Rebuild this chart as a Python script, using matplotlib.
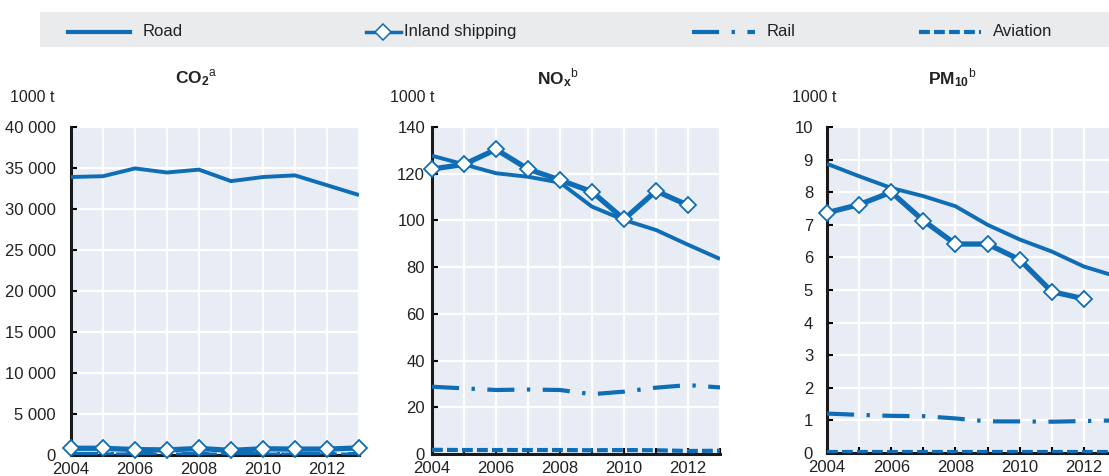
import numpy as np
import matplotlib.pyplot as plt
from matplotlib.ticker import FuncFormatter

plt.rcParams['font.family'] = ['Liberation Sans Narrow', 'Liberation Sans', 'DejaVu Sans']
plt.rcParams['mathtext.fontset'] = 'custom'
plt.rcParams['mathtext.rm'] = 'Liberation Sans'
plt.rcParams['mathtext.bf'] = 'Liberation Sans:bold'

years = np.arange(2004, 2014)

# emissions in 1000 t
co2_road = [33900, 34000, 34950, 34450, 34800, 33400, 33900, 34100, 32900, 31700]
co2_inland = [820, 820, 660, 620, 800, 560, 760, 720, 720, 860]
co2_rail = [130, 130, 125, 125, 120, 115, 115, 115, 110, 110]
co2_aviation = [60, 60, 60, 55, 55, 50, 50, 50, 45, 45]

nox_road = [127.7, 124.0, 120.2, 118.7, 116.2, 105.9, 100.2, 95.9, 89.6, 83.5]
nox_inland = [122.0, 124.0, 130.4, 122.0, 117.3, 112.3, 100.5, 112.6, 106.5, np.nan]
nox_rail = [28.8, 28.1, 27.4, 27.6, 27.4, 25.6, 26.7, 28.4, 29.5, 28.5]
nox_aviation = [1.8, 1.7, 1.7, 1.7, 1.7, 1.6, 1.7, 1.6, 1.3, 1.4]

pm_road = [8.87, 8.49, 8.13, 7.88, 7.57, 7.00, 6.55, 6.18, 5.72, 5.42]
pm_inland = [7.37, 7.62, 8.00, 7.13, 6.41, 6.41, 5.93, 4.95, 4.73, np.nan]
pm_rail = [1.21, 1.17, 1.14, 1.13, 1.06, 0.97, 0.97, 0.96, 0.98, 1.00]
pm_aviation = [0.03, 0.03, 0.03, 0.03, 0.03, 0.03, 0.03, 0.03, 0.03, 0.03]

titles = [r'$\mathbf{CO_2}^{\mathrm{a}}$', r'$\mathbf{NO_x}^{\mathrm{b}}$', r'$\mathbf{PM_{10}}^{\mathrm{b}}$']
ylims = [(0, 40000, 5000), (0, 140, 20), (0, 10, 1)]
panels = [
    (co2_road, co2_inland, co2_rail, co2_aviation),
    (nox_road, nox_inland, nox_rail, nox_aviation),
    (pm_road, pm_inland, pm_rail, pm_aviation),
]

blue = '#0F6DB5'
bg = '#E8ECF5'
W, H = 1109, 476

fig = plt.figure(figsize=(W / 100, H / 100), dpi=100)

# axes boxes in pixels: left, right, top, bottom
boxes = [(71, 359, 127, 455), (432, 720, 127, 454), (827, 1116, 127, 453)]
label_pad = [11, 5, 10]
title_x = [196, 558, 952]
unit_x = [10, 390, 792]

rail_dash = (6.5, 3.0, 0.8, 3.0)
avia_dash = (2.6, 1.0)


def thousands(v, pos):
    return f'{int(v):,}'.replace(',', ' ')


for i, (box, data) in enumerate(zip(boxes, panels)):
    l, r, t, b = box
    ax = fig.add_axes([l / W, 1 - b / H, (r - l) / W, (b - t) / H])
    road, inland, rail, aviation = data
    ax.set_facecolor(bg)
    ax.plot(years, aviation, color=blue, lw=3, dashes=avia_dash, zorder=3)
    ax.plot(years, rail, color=blue, lw=3, dashes=rail_dash, zorder=3)
    ax.plot(years, road, color=blue, lw=2.8, zorder=4, solid_capstyle='butt')
    ax.plot(years, inland, color=blue, lw=3.8, marker='D', ms=8,
            mfc='white', mec=blue, mew=1.3, zorder=5, clip_on=False)

    lo, hi, step = ylims[i]
    ax.set_ylim(lo, hi)
    ax.set_yticks(np.arange(lo, hi + step / 2, step))
    ax.set_xlim(2004, 2013)
    ax.set_xticks(years)
    ax.set_xticklabels([str(y) if y % 2 == 0 else '' for y in years])
    if i == 0:
        ax.yaxis.set_major_formatter(FuncFormatter(thousands))
    ax.grid(True, color='white', lw=1.6)
    ax.set_axisbelow(True)
    for s in ['top', 'right']:
        ax.spines[s].set_visible(False)
    for s in ['left', 'bottom']:
        ax.spines[s].set_linewidth(2.2)
        ax.spines[s].set_color('#1a1a1a')
    ax.tick_params(axis='y', direction='in', length=4, width=1.5,
                   labelsize=12, pad=label_pad[i], labelcolor='#222222')
    ax.tick_params(axis='x', direction='in', length=4, width=1.5,
                   labelsize=12, pad=5, labelcolor='#222222')

    fig.text(title_x[i] / W, 1 - 78 / H, titles[i], ha='center', va='center',
             fontsize=12.5, color='#222222')
    fig.text(unit_x[i] / W, 1 - 98 / H, '1000 t', ha='left', va='center',
             fontsize=11.5, color='#222222')

# legend bar across the top
lax = fig.add_axes([40 / W, 1 - 47 / H, (W - 40) / W, 35 / H])
lax.set_facecolor('#EAEBED')
lax.set_xlim(40, W)
lax.set_ylim(0, 1)
lax.set_xticks([])
lax.set_yticks([])
for s in lax.spines.values():
    s.set_visible(False)

ly = 0.44
lax.plot([68, 130], [ly, ly], color=blue, lw=3)
lax.text(143, ly, 'Road', va='center', fontsize=12, color='#222222')
lax.plot([366, 401], [ly, ly], color=blue, lw=2.5)
lax.plot([383], [ly], marker='D', ms=8, mfc='white', mec=blue, mew=1.1)
lax.text(404, ly, 'Inland shipping', va='center', fontsize=12, color='#222222')
lax.plot([692, 755], [ly, ly], color=blue, lw=3, dashes=rail_dash)
lax.text(767, ly, 'Rail', va='center', fontsize=12, color='#222222')
lax.plot([919, 981], [ly, ly], color=blue, lw=3, dashes=avia_dash)
lax.text(993, ly, 'Aviation', va='center', fontsize=12, color='#222222')

fig.savefig('out.png', dpi=100)
